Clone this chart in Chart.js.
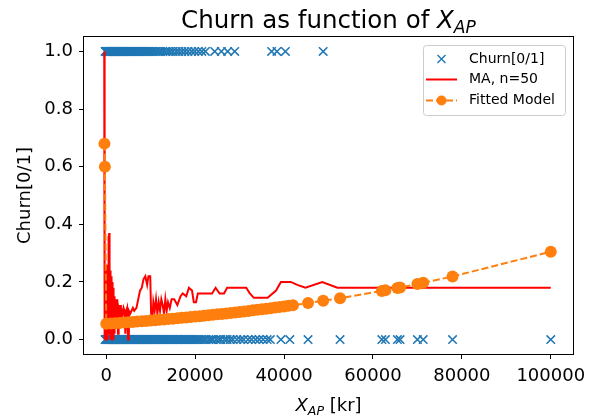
<!DOCTYPE html>
<html>
<head>
<meta charset="utf-8">
<script src="https://cdn.jsdelivr.net/npm/chart.js@4/dist/chart.umd.min.js"></script>
<style>
  body { margin: 0; background: #fff; }
  canvas { display: block; }
</style>
</head>
<body>
<canvas id="churnChart" width="598" height="419"></canvas>
<script>
// customers that stayed (churn = 0), by X_AP in kr
const stayedX = [
  -250, -120, 30, 180, 330, 470, 640, 790, 950, 1100, 1260, 1410, 1580, 1730, 1890,
  2050, 2210, 2370, 2540, 2700, 2860, 3020, 3190, 3350, 3520, 3690, 3850, 4020, 4190,
  4360, 4530, 4700, 4880, 5050, 5230, 5400, 5580, 5760, 5940, 6120, 6300, 6490, 6670,
  6860, 7050, 7240, 7430, 7620, 7820, 8010, 8210, 8410, 8610, 8810, 9020, 9220, 9430,
  9640, 9850, 10060, 10280, 10490, 10710, 10930, 11150, 11380, 11600, 11830, 12060,
  12290, 12530, 12760, 13000, 13240, 13490, 13730, 13980, 14230, 14490, 14740, 15000,
  15260, 15530, 15800, 16070, 16340, 16620, 16900, 17180, 17470, 17760, 18050, 18350,
  18650, 18950, 19260, 19570, 19890, 20210, 20530, 20860, 21200,
  21600, 22100, 22500, 23100, 23600, 24000, 24700, 25300, 25800, 26600, 27200, 27900,
  28500, 29400, 30200, 30900, 31900, 32700, 33600, 34400, 35300, 36200, 36900,
  39300, 41300, 45400, 52600, 62000, 62800, 65500, 66100, 70000, 71300, 77900, 100000
];
// customers that left (churn = 1)
const churnedX = [
  -250, -100, 50, 200, 350, 500, 660, 810, 970, 1120, 1280, 1440, 1600, 1770, 1930,
  2100, 2270, 2440, 2610, 2780, 2960, 3140, 3320, 3500, 3680, 3870, 4060, 4250, 4440,
  4640, 4840, 5040, 5250, 5460, 5670, 5880, 6100, 6320, 6550, 6780, 7010, 7250, 7490,
  7740, 7990, 8250, 8510, 8780, 9050, 9330, 9610, 9900, 10200, 10500,
  10900, 11300, 11800, 12200, 12700, 13300, 13800, 14400, 15000, 15700, 16300, 17000,
  17700, 18400, 19200, 19900, 20700, 21500, 22300, 24400, 25900, 27300, 28900,
  37200, 38400, 40300, 48800
];

// moving average over 50 customers, sorted by X_AP
const maX = [
  -450, -420, -380, -340, -300, -260, -220, -180, -140, -100, -60, -20, 20, 60, 100, 140,
  180, 220, 260, 300, 350, 400, 450, 500, 550, 600, 650, 700, 750, 800, 850, 900, 950,
  1000, 1050, 1100, 1150, 1200, 1250, 1300, 1350, 1400, 1450, 1500, 1550, 1600, 1650,
  1700, 1750, 1800, 1850, 1900, 1950, 2000, 2100, 2200, 2300, 2400, 2500, 2650, 2800,
  2950, 3100, 3300, 3500, 3700, 3900, 4100, 4300, 4500, 4700, 4900, 5100, 5400, 5700,
  6000, 6300, 6800, 7200, 7600, 8000, 8400, 8800, 9200, 9500, 9900, 10100, 10300,
  10600, 10900, 11200, 11500, 11800, 12100, 12400, 12700, 13000, 13300, 13600, 13900,
  14300, 14700, 15300, 16000, 16700, 17200, 18000, 18600, 19300, 19700, 20200, 20600,
  22000, 23800, 24600, 25500, 26500, 27200, 31500, 32300, 33200, 36300, 38200, 39300,
  41500, 43000, 44800, 48600, 52000, 100000
];
const maY = [
  1.00, 0.02, 0.22, 0.00, 0.26, 0.04, 0.20, 0.00, 0.24, 0.02, 0.18, 0.00, 0.22, 0.04,
  0.20, 0.00, 0.26, 0.06, 0.22, 0.00, 0.20, 0.02, 0.24, 0.06, 0.36, 0.10, 0.37, 0.12,
  0.30, 0.04, 0.22, 0.00, 0.24, 0.06, 0.20, 0.02, 0.22, 0.08, 0.18, 0.00, 0.20, 0.06,
  0.17, 0.02, 0.16, 0.10, 0.18, 0.00, 0.15, 0.08, 0.14, 0.02, 0.12, 0.10, 0.14, 0.04,
  0.12, 0.10, 0.14, 0.02, 0.11, 0.10, 0.12, 0.05, 0.10, 0.09, 0.11, 0.10, 0.02, 0.10,
  0.11, 0.00, 0.10, 0.09, 0.10, 0.11, 0.10, 0.11, 0.14, 0.17, 0.18, 0.21, 0.22, 0.19,
  0.22, 0.22, 0.09, 0.05, 0.13, 0.10, 0.14, 0.09, 0.13, 0.10, 0.14, 0.12, 0.09, 0.14,
  0.10, 0.13, 0.11, 0.14, 0.14, 0.12, 0.15, 0.16, 0.15, 0.18, 0.17, 0.13, 0.13, 0.16,
  0.16, 0.16, 0.18, 0.16, 0.16, 0.18, 0.18, 0.16, 0.145, 0.145, 0.17, 0.20, 0.20, 0.19,
  0.18, 0.20, 0.18, 0.18
];

// fitted model: predicted churn probability
const fitX = [
  -400, -300, 0, 1000, 2000, 3000, 4000, 5000, 6000, 7000, 8000, 9000, 10000, 11000,
  12000, 13000, 14000, 15000, 16000, 17000, 18000, 19000, 20000, 21000, 22000, 23000,
  24000, 25000, 26000, 27000, 28000, 29000, 30000, 31000, 32000, 33000, 34000, 35000,
  36000, 37000, 38000, 39000, 40000, 41000, 42000, 45400, 48800, 52600, 62000, 62800,
  65500, 66100, 70000, 71300, 77900, 100000
];
const fitY = [
  0.68, 0.60, 0.0547, 0.0557, 0.0568, 0.0579, 0.0590, 0.0602, 0.0613, 0.0625, 0.0637,
  0.0649, 0.0661, 0.0674, 0.0687, 0.0700, 0.0713, 0.0727, 0.0741, 0.0755, 0.0769,
  0.0784, 0.0798, 0.0813, 0.0828, 0.0844, 0.0860, 0.0876, 0.0892, 0.0909, 0.0926,
  0.0943, 0.0960, 0.0978, 0.0996, 0.1014, 0.1033, 0.1052, 0.1071, 0.1090, 0.1110,
  0.1130, 0.1151, 0.1172, 0.1193, 0.1267, 0.1346, 0.1438, 0.1688, 0.1711, 0.1790,
  0.1808, 0.1928, 0.1969, 0.2190, 0.3049
];

const xTicks = [0, 20000, 40000, 60000, 80000, 100000];
const yTicks = [0, 0.2, 0.4, 0.6, 0.8, 1.0];

const FONT = "'DejaVu Sans', sans-serif";
const BLUE = "#1f77b4";
const ORANGE = "#ff7f0e";
const RED = "#ff0000";

Chart.defaults.font.family = FONT;

const churnPoints = churnedX.map(x => ({ x: x, y: 1 }))
  .concat(stayedX.map(x => ({ x: x, y: 0 })));
const maPoints = maX.map((x, i) => ({ x: x, y: maY[i] }));
const fitPoints = fitX.map((x, i) => ({ x: x, y: fitY[i] }));

// writes "X" with an "AP" subscript, both italic, returns the end x
function drawXap(ctx, x, y, size) {
  ctx.font = "italic " + size + "px " + FONT;
  ctx.fillText("X", x, y);
  x += ctx.measureText("X").width;
  ctx.font = "italic " + (size * 0.7) + "px " + FONT;
  ctx.fillText("AP", x, y + size * 0.22);
  return x + ctx.measureText("AP").width;
}

function measureXap(ctx, size) {
  ctx.font = "italic " + size + "px " + FONT;
  let w = ctx.measureText("X").width;
  ctx.font = "italic " + (size * 0.7) + "px " + FONT;
  return w + ctx.measureText("AP").width;
}

const decorations = {
  id: "decorations",
  afterDraw(chart) {
    const ctx = chart.ctx;
    const a = chart.chartArea;
    ctx.save();

    // axes frame
    ctx.strokeStyle = "#000";
    ctx.lineWidth = 1;
    ctx.strokeRect(a.left - 0.5, a.top - 0.5, a.right - a.left + 1, a.bottom - a.top + 1);

    ctx.fillStyle = "#000";
    ctx.textBaseline = "alphabetic";
    ctx.textAlign = "left";
    const mid = (a.left + a.right) / 2;

    // title
    const tSize = 24.5;
    ctx.font = tSize + "px " + FONT;
    const head = "Churn as function of ";
    const headW = ctx.measureText(head).width;
    const tx = mid - (headW + measureXap(ctx, tSize)) / 2;
    ctx.font = tSize + "px " + FONT;
    ctx.fillText(head, tx, 28);
    drawXap(ctx, tx + headW, 28, tSize);

    // x axis label
    const lSize = 18;
    ctx.font = lSize + "px " + FONT;
    const tail = " [kr]";
    const tailW = ctx.measureText(tail).width;
    const lx = mid - (measureXap(ctx, lSize) + tailW) / 2;
    const endX = drawXap(ctx, lx, 411, lSize);
    ctx.font = lSize + "px " + FONT;
    ctx.fillText(tail, endX, 411);

    // legend
    const bx = 423, by = 45, bw = 142, bh = 70;
    ctx.fillStyle = "rgba(255,255,255,0.8)";
    ctx.strokeStyle = "#cccccc";
    ctx.lineWidth = 1;
    ctx.beginPath();
    ctx.roundRect(bx + 0.5, by + 0.5, bw, bh, 3);
    ctx.fill();
    ctx.stroke();

    const hx0 = 426, hx1 = 457, hc = 441.5, textX = 469;
    const rows = [59, 79.5, 100.5];

    ctx.strokeStyle = BLUE;
    ctx.lineWidth = 1.4;
    ctx.beginPath();
    ctx.moveTo(hc - 4, rows[0] - 4); ctx.lineTo(hc + 4, rows[0] + 4);
    ctx.moveTo(hc - 4, rows[0] + 4); ctx.lineTo(hc + 4, rows[0] - 4);
    ctx.stroke();

    ctx.strokeStyle = RED;
    ctx.lineWidth = 2;
    ctx.beginPath();
    ctx.moveTo(hx0, rows[1]); ctx.lineTo(hx1, rows[1]);
    ctx.stroke();

    ctx.strokeStyle = ORANGE;
    ctx.setLineDash([7, 3]);
    ctx.beginPath();
    ctx.moveTo(hx0, rows[2]); ctx.lineTo(hx1, rows[2]);
    ctx.stroke();
    ctx.setLineDash([]);
    ctx.fillStyle = ORANGE;
    ctx.beginPath();
    ctx.arc(hc, rows[2], 5, 0, Math.PI * 2);
    ctx.fill();

    ctx.fillStyle = "#000";
    ctx.font = "14px " + FONT;
    ctx.textBaseline = "middle";
    ctx.fillText("Churn[0/1]", textX, rows[0]);
    ctx.fillText("MA, n=50", textX, rows[1]);
    ctx.fillText("Fitted Model", textX, rows[2]);

    ctx.restore();
  }
};

new Chart(document.getElementById("churnChart"), {
  type: "scatter",
  data: {
    datasets: [
      {
        label: "Churn[0/1]",
        data: churnPoints,
        pointStyle: "crossRot",
        pointRadius: 6,
        pointBorderWidth: 1.5,
        borderColor: BLUE,
        backgroundColor: BLUE,
        order: 3,
      },
      {
        label: "MA, n=50",
        data: maPoints,
        showLine: true,
        borderColor: RED,
        borderWidth: 2,
        pointRadius: 0,
        tension: 0,
        order: 2,
      },
      {
        label: "Fitted Model",
        data: fitPoints,
        showLine: true,
        borderColor: ORANGE,
        borderWidth: 2,
        borderDash: [7, 3],
        pointRadius: 6,
        pointBorderWidth: 0,
        pointBackgroundColor: ORANGE,
        tension: 0,
        order: 1,
      },
    ],
  },
  options: {
    responsive: false,
    animation: false,
    devicePixelRatio: 1,
    layout: { padding: { top: 37, right: 25, left: 0, bottom: 0 } },
    plugins: {
      legend: { display: false },
      title: { display: false },
      tooltip: { enabled: false },
    },
    scales: {
      x: {
        type: "linear",
        min: -5000,
        max: 105000,
        afterBuildTicks: s => { s.ticks = xTicks.map(v => ({ value: v })); },
        afterFit: s => { s.height = 65; },
        border: { display: false },
        grid: { drawOnChartArea: false, tickLength: 5, tickColor: "#000", tickWidth: 1 },
        ticks: {
          autoSkip: false,
          maxRotation: 0,
          padding: 7,
          color: "#000",
          font: { size: 18 },
          callback: v => String(v),
        },
      },
      y: {
        type: "linear",
        min: -0.05,
        max: 1.05,
        afterBuildTicks: s => { s.ticks = yTicks.map(v => ({ value: v })); },
        afterFit: s => { s.width = 84; },
        border: { display: false },
        grid: { drawOnChartArea: false, tickLength: 5, tickColor: "#000", tickWidth: 1 },
        ticks: {
          autoSkip: false,
          padding: 6,
          color: "#000",
          font: { size: 18 },
          callback: v => v.toFixed(1),
        },
        title: {
          display: true,
          text: "Churn[0/1]",
          color: "#000",
          font: { size: 18 },
          padding: { top: 15, bottom: 0 },
        },
      },
    },
  },
  plugins: [decorations],
});
</script>
</body>
</html>
